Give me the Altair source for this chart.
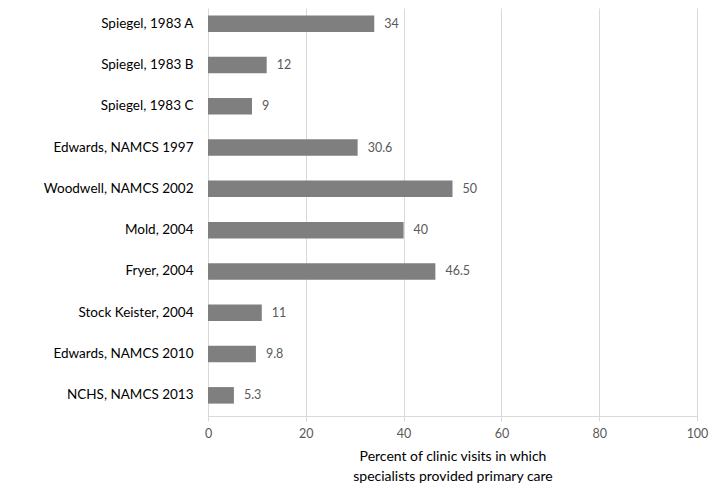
import altair as alt
import pandas as pd

studies = [
    "Spiegel, 1983 A",
    "Spiegel, 1983 B",
    "Spiegel, 1983 C",
    "Edwards, NAMCS 1997",
    "Woodwell, NAMCS 2002",
    "Mold, 2004",
    "Fryer, 2004",
    "Stock Keister, 2004",
    "Edwards, NAMCS 2010",
    "NCHS, NAMCS 2013",
]
values = [34, 12, 9, 30.6, 50, 40, 46.5, 11, 9.8, 5.3]
labels = ["34", "12", "9", "30.6", "50", "40", "46.5", "11", "9.8", "5.3"]
x_ticks = [0, 20, 40, 60, 80, 100]

df = pd.DataFrame({"study": studies, "value": values, "label": labels})

FONT = "Lato"

y_enc = alt.Y(
    "study:N",
    sort=studies,
    scale=alt.Scale(range=[-5, 408], paddingInner=0.6, paddingOuter=0.3),
    axis=alt.Axis(
        title=None,
        domain=False,
        ticks=False,
        labelPadding=15,
        labelFontSize=13.5,
        labelColor="#000000",
        labelFont=FONT,
    ),
)

x_enc = alt.X(
    "value:Q",
    scale=alt.Scale(domain=[0, 100], nice=False),
    axis=alt.Axis(
        values=x_ticks,
        title=["Percent of clinic visits in which", "specialists provided primary care"],
        titleFont=FONT,
        titleFontSize=14,
        titleFontWeight="normal",
        titleColor="#000000",
        titlePadding=10,
        titleLineHeight=20,
        labelFont=FONT,
        labelFontSize=12.5,
        labelColor="#595959",
        labelPadding=11,
        labelFlush=False,
        ticks=False,
        domainColor="#d9d9d9",
        gridColor="#d9d9d9",
        grid=True,
    ),
)

bars = alt.Chart(df).mark_bar(color="#7f7f7f").encode(x=x_enc, y=y_enc)

text = alt.Chart(df).mark_text(
    align="left", baseline="middle", dx=10, font=FONT, fontSize=12.5, color="#595959"
).encode(
    x=alt.X("value:Q"),
    y=alt.Y("study:N", sort=studies),
    text="label:N",
)

chart = (
    alt.layer(bars, text)
    .properties(
        width=489,
        height=408,
        autosize=alt.AutoSizeParams(type="none"),
        padding={"left": 200, "top": 0, "right": 13, "bottom": 73},
    )
    .configure_view(stroke=None)
)

chart.save("out.html", embed_options={"renderer": "svg", "actions": False})
